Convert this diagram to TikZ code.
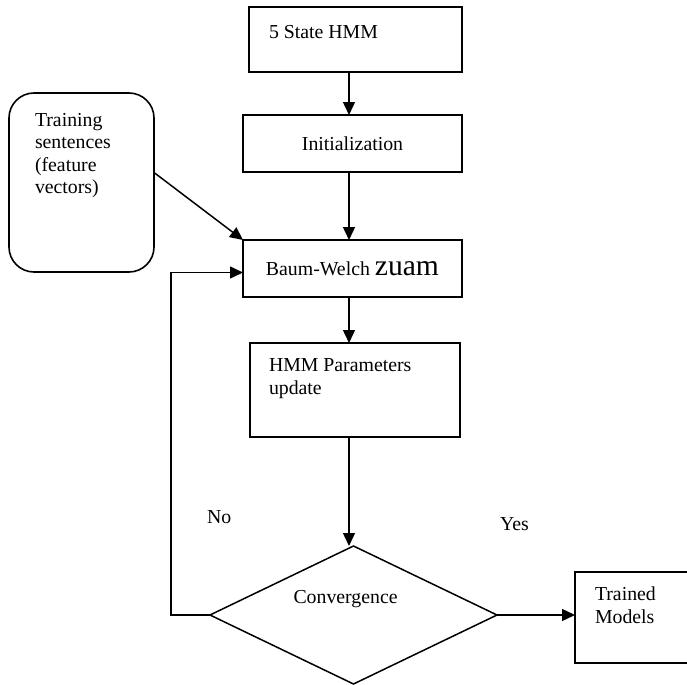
\documentclass[tikz,border=0pt]{standalone}
\usepackage{fontspec}
\setmainfont{Liberation Serif}
\usetikzlibrary{arrows.meta,positioning,shapes.geometric}

\begin{document}
\begin{tikzpicture}[x=0.5pt,y=-0.5pt,>={Triangle[length=6.5pt,width=6pt]},
  every node/.style={font=\fontsize{9.9}{11.3}\selectfont,inner sep=0pt,outer sep=0pt},
  box/.style={draw,line width=0.8pt},
  decision/.style={draw,diamond,line width=0.75pt,minimum width=143.5pt,minimum height=69pt},
  txt/.style={anchor=north west,align=left},
  flow/.style={->,line width=0.75pt}]
  \clip (0,0) rectangle (687,685);
  % main column
  \node[box,minimum width=106.5pt,minimum height=32.5pt] (hmm) at (355.5,39.5) {};
  \node[txt] (hmmtxt) at ([shift={(20,18)}]hmm.north west) {5 State HMM};
  \node[box,minimum width=109.5pt,minimum height=28.5pt] (init) at (352.5,143.5) {Initialization};
  \node[box,minimum width=109.5pt,minimum height=28.5pt] (bw) at (352.5,268.5) {Baum-Welch {\fontsize{14.8}{16}\selectfont zuam}};
  \node[box,minimum width=105pt,minimum height=47pt] (upd) at (355,390) {};
  \node[txt] (updtxt) at ([shift={(19,16)}]upd.north west) {HMM Parameters\\update};
  \node[decision] (conv) at (353.5,615) {};
  \node[anchor=base west] (convtxt) at ([shift={(-60,-12)}]conv.center) {Convergence};
  \node[box,minimum width=65pt,minimum height=45.5pt] (out) at (640,617.5) {};
  \node[txt] (outtxt) at ([shift={(20,15)}]out.north west) {Trained\\Models};
  % input data
  \node[box,rounded corners=12.5pt,minimum width=72.5pt,minimum height=89.5pt] (train) at (81.5,182.5) {};
  \node[txt] (traintxt) at ([shift={(26,20)}]train.north west) {Training\\sentences\\(feature\\vectors)};
  % branch labels
  \node[anchor=base west] (no) at (207,523) {No};
  \node[anchor=base west] (yes) at (500,530) {Yes};

  \coordinate (spine) at (349,0);
  \coordinate (loop) at (171,0);
  \coordinate (bwin) at ([yshift=-2pt]bw.west);
  \draw[flow] (hmm.south -| spine) -- (init.north -| spine);
  \draw[flow] (init.south -| spine) -- (bw.north -| spine);
  \draw[flow] (bw.south -| spine) -- (upd.north -| spine);
  \draw[flow] (upd.south -| spine) -- (conv.north -| spine);
  \draw[flow] ([yshift=5pt]train.east) -- (bw.north west);
  \draw[flow] (conv.west) -- (conv.west -| loop) |- (bwin);
  \draw[flow] (conv.east) -- (out.west |- conv.east);
\end{tikzpicture}
\end{document}
